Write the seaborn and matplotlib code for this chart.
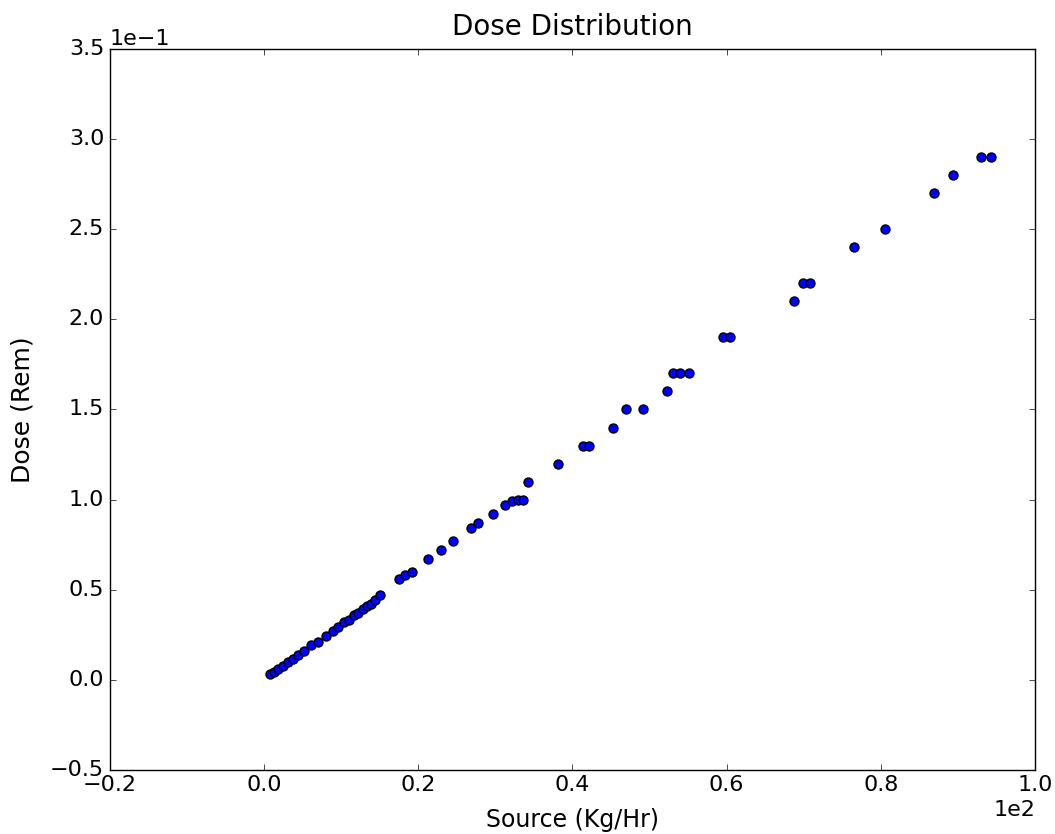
import numpy as np
import pandas as pd
import seaborn as sns
import matplotlib.pyplot as plt

plt.style.use("classic")
plt.rcParams['font.family'] = ['DejaVu Sans']

# source rate (Kg/Hr) and dose (Rem)
source = [0.8, 1.3, 1.8, 2.5, 3.1, 3.8, 4.4, 5.2, 6.1, 7.0, 8.1, 9.0, 9.6, 10.4,
          11.0, 11.7, 12.2, 12.9, 13.4, 13.9, 14.4, 15.1,
          17.5, 18.3, 19.2, 21.3, 23.0, 24.5, 26.8, 27.7, 29.7,
          31.3, 32.2, 32.9, 33.6, 34.2, 38.1, 41.4, 42.2, 45.3, 47.0, 49.2,
          52.3, 53.0, 54.0, 55.1, 59.6, 60.4, 68.7, 69.9, 70.8,
          76.5, 80.6, 86.9, 89.4, 93.0, 94.3]
dose = [0.003, 0.0044, 0.006, 0.0077, 0.010, 0.0116, 0.0138, 0.016, 0.019, 0.021,
        0.024, 0.027, 0.029, 0.032, 0.033, 0.036, 0.037, 0.039, 0.041, 0.042,
        0.044, 0.047,
        0.056, 0.058, 0.060, 0.067, 0.072, 0.077, 0.084, 0.087, 0.092,
        0.097, 0.099, 0.100, 0.100, 0.11, 0.12, 0.13, 0.13, 0.14, 0.15, 0.15,
        0.16, 0.17, 0.17, 0.17, 0.19, 0.19, 0.21, 0.22, 0.22,
        0.24, 0.25, 0.27, 0.28, 0.29, 0.29]

df = pd.DataFrame({'Source': source, 'Dose': dose})

fig = plt.figure(figsize=(10.55, 8.34), dpi=100, facecolor='white')
ax = fig.add_axes([0.104, 0.077, 0.877, 0.864])

sns.scatterplot(x='Source', y='Dose', data=df, color='b', edgecolor='k',
                linewidth=1, s=42, ax=ax, zorder=3)

ax.set_xlim(-20, 100)
ax.set_ylim(-0.05, 0.35)
ax.ticklabel_format(style='sci', scilimits=(0, 0))
ax.tick_params(labelsize=16)
ax.xaxis.get_offset_text().set_fontsize(16)
ax.yaxis.get_offset_text().set_fontsize(16)

ax.set_title('Dose Distribution', fontsize=20, pad=10)
ax.set_xlabel('Source (Kg/Hr)', fontsize=17, labelpad=9)
ax.set_ylabel('Dose (Rem)', fontsize=18, labelpad=11)

fig.savefig('out.png', dpi=100, facecolor='white')
